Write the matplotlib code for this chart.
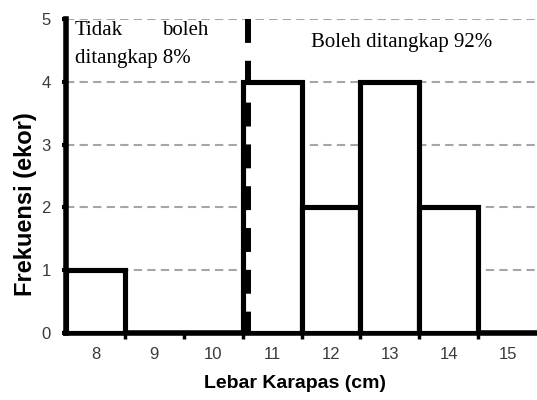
import matplotlib.pyplot as plt
import matplotlib.transforms as mtransforms
import numpy as np

# data
lebar = [8, 9, 10, 11, 12, 13, 14, 15]
frekuensi = [1, 0, 0, 4, 2, 4, 2, 0]
batas = 10.5

fig = plt.figure(figsize=(5.37, 4.0), dpi=100)
ax = fig.add_axes([0.123, 0.1675, 0.877, 0.785])

ax.set_axisbelow(True)
ax.yaxis.grid(True, color='#a6a6a6', linestyle=(0, (4, 2.5)), linewidth=1.5)

for x, f in zip(lebar, frekuensi):
    if f > 0:
        ax.bar(x, f, width=1.0, color='white', edgecolor='black', linewidth=3.7, zorder=3)

# batas line sits just right of the bar edge
geser = mtransforms.offset_copy(ax.transData, fig=fig, x=5, y=0, units='dots')
ax.plot([batas, batas], [5, 0], color='black', linewidth=4.3, linestyle=(0, (4, 3)),
        solid_capstyle='butt', dash_capstyle='butt', transform=geser, zorder=4, clip_on=False)

ax.set_xlim(7.5, 15.5)
ax.set_ylim(0, 5)
ax.set_xticks(lebar)
ax.set_xticks(np.arange(8.5, 15.5, 1), minor=True)
ax.set_yticks(range(6))
ax.tick_params(axis='x', which='major', length=0, pad=10, labelsize=12)
ax.tick_params(axis='x', which='minor', length=4, width=2.5, direction='out')
ax.tick_params(axis='y', length=3, width=3, pad=8, labelsize=12)
for lab in ax.get_xticklabels() + ax.get_yticklabels():
    lab.set_fontfamily('Liberation Sans')
    lab.set_color('#3a3a3a')

for s in ['top', 'right']:
    ax.spines[s].set_visible(False)
ax.spines['left'].set_linewidth(4)
ax.spines['bottom'].set_linewidth(4)

ax.set_xlabel('Lebar Karapas (cm)', fontfamily='Liberation Sans', fontweight='bold', fontsize=14)
ax.set_ylabel('Frekuensi (ekor)', fontfamily='Liberation Sans', fontweight='bold', fontsize=17)
ax.xaxis.set_label_coords(0.486, -0.135)
ax.yaxis.set_label_coords(-0.062, 0.41)

ax.text(7.65, 4.97, 'Tidak', fontfamily='Liberation Serif', fontsize=15, va='top', ha='left')
ax.text(9.92, 4.97, 'boleh', fontfamily='Liberation Serif', fontsize=15, va='top', ha='right')
ax.text(7.65, 4.52, 'ditangkap 8%', fontfamily='Liberation Serif', fontsize=15, va='top', ha='left')
ax.text(13.2, 4.63, 'Boleh ditangkap 92%', fontfamily='Liberation Serif', fontsize=15, va='center', ha='center')

fig.savefig('out.png', dpi=100)
